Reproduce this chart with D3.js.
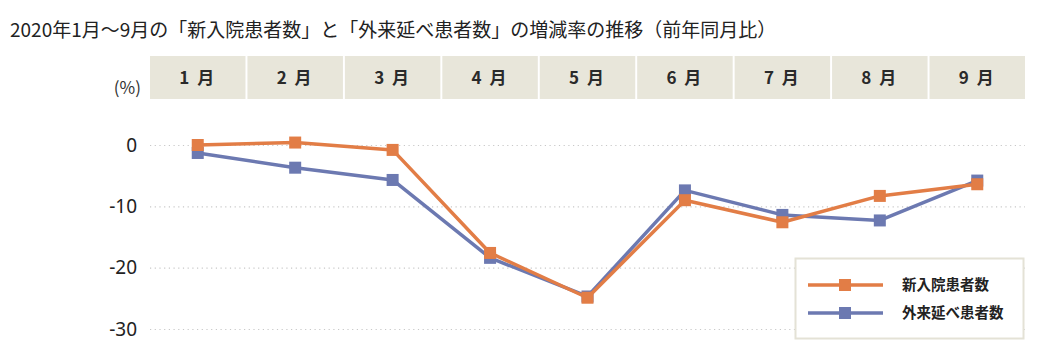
<!DOCTYPE html>
<html>
<head>
<meta charset="utf-8">
<script src="https://d3js.org/d3.v7.min.js"></script>
<style>
  body { margin: 0; background: #fff; }
  svg text { font-family: "Noto Sans CJK JP", "Noto Sans", sans-serif; }
</style>
</head>
<body>
<div id="chart"></div>
<script>
// Data
var months = ["1月", "2月", "3月", "4月", "5月", "6月", "7月", "8月", "9月"]
var inpatient = [0.0, 0.4, -0.8, -17.6, -24.9, -9.0, -12.6, -8.3, -6.4]   // 新入院患者数
var outpatient = [-1.3, -3.7, -5.7, -18.4, -24.7, -7.4, -11.4, -12.3, -5.8] // 外来延べ患者数
var yTicks = [0, -10, -20, -30]
var seriesNames = ["新入院患者数", "外来延べ患者数"]

var width = 1040, height = 360
var plot = {left: 150, right: 1025, top: 145, bottom: 329}
var colors = ["#E27D46", "#6C79B1"]

var svg = d3.select("#chart").append("svg")
    .attr("width", width)
    .attr("height", height);

// Title
svg.append("text")
    .attr("x", 10)
    .attr("y", 37)
    .attr("font-size", 19)
    .attr("fill", "#222")
    .text("2020年1月～9月の「新入院患者数」と「外来延べ患者数」の増減率の推移（前年同月比）");

// Scales
var x = d3.scaleBand()
    .domain(months)
    .range([plot.left, plot.right])
    .paddingInner(0.02);

var y = d3.scaleLinear()
    .domain([0, -30])
    .range([plot.top, plot.bottom]);

var cx = function (m) { return x(m) + x.bandwidth() / 2 };

// Month header cells
var header = svg.append("g");
header.selectAll("rect")
    .data(months)
    .enter()
    .append("rect")
        .attr("x", d => x(d))
        .attr("y", 56)
        .attr("width", x.bandwidth())
        .attr("height", 43)
        .attr("fill", "#E8E6DA");
header.selectAll("text")
    .data(months)
    .enter()
    .append("text")
        .attr("x", d => cx(d))
        .attr("y", 84)
        .attr("text-anchor", "middle")
        .attr("font-size", 17)
        .attr("font-weight", "bold")
        .attr("fill", "#2a2a2a")
        .attr("letter-spacing", 2)
        .text(d => d.replace("月", " 月"));

// Unit
svg.append("text")
    .attr("x", 141)
    .attr("y", 94)
    .attr("text-anchor", "end")
    .attr("font-size", 17)
    .attr("fill", "#333")
    .text("(%)");

// Grid + y labels
var yAxis = svg.append("g")
    .attr("transform", "translate(" + plot.left + ",0)")
    .call(d3.axisLeft(y).tickValues(yTicks)
        .tickSize(-(plot.right - plot.left)).tickPadding(13).tickFormat(d => String(d)));
yAxis.select(".domain").remove();
yAxis.selectAll(".tick line")
    .attr("stroke", "#C8C8C8")
    .attr("stroke-width", 1.2)
    .attr("stroke-dasharray", "1.2,3.5");
yAxis.selectAll(".tick text")
    .attr("font-size", 19)
    .attr("fill", "#222")
    .style("font-family", "'Noto Sans', sans-serif");

// Lines
var line = d3.line()
    .x((d, i) => cx(months[i]))
    .y(d => y(d));

var allSeries = [outpatient, inpatient];
var allColors = [colors[1], colors[0]];

allSeries.forEach(function (s, k) {
    var g = svg.append("g");
    g.append("path")
        .datum(s)
        .attr("d", line)
        .attr("fill", "none")
        .attr("stroke", allColors[k])
        .attr("stroke-width", 3.5)
        .attr("stroke-linejoin", "round");
    g.selectAll("rect")
        .data(s)
        .enter()
        .append("rect")
            .attr("x", (d, i) => cx(months[i]) - 6)
            .attr("y", d => y(d) - 6)
            .attr("width", 12)
            .attr("height", 12)
            .attr("fill", allColors[k]);
});

// Legend
var legend = svg.append("g").attr("transform", "translate(795,258)");
legend.append("rect")
    .attr("x", 0.5)
    .attr("y", 0.5)
    .attr("width", 228)
    .attr("height", 80)
    .attr("fill", "#fff")
    .attr("stroke", "#E4E2D6")
    .attr("stroke-width", 2);
seriesNames.forEach(function (name, i) {
    var ly = 27 + i * 28;
    legend.append("line")
        .attr("x1", 13).attr("x2", 88)
        .attr("y1", ly).attr("y2", ly)
        .attr("stroke", colors[i])
        .attr("stroke-width", 3.5);
    legend.append("rect")
        .attr("x", 44).attr("y", ly - 6)
        .attr("width", 12).attr("height", 12)
        .attr("fill", colors[i]);
    legend.append("text")
        .attr("x", 107)
        .attr("y", ly + 5)
        .attr("font-size", 14.5)
        .attr("font-weight", "bold")
        .attr("fill", "#222")
        .text(name);
});
</script>
</body>
</html>
